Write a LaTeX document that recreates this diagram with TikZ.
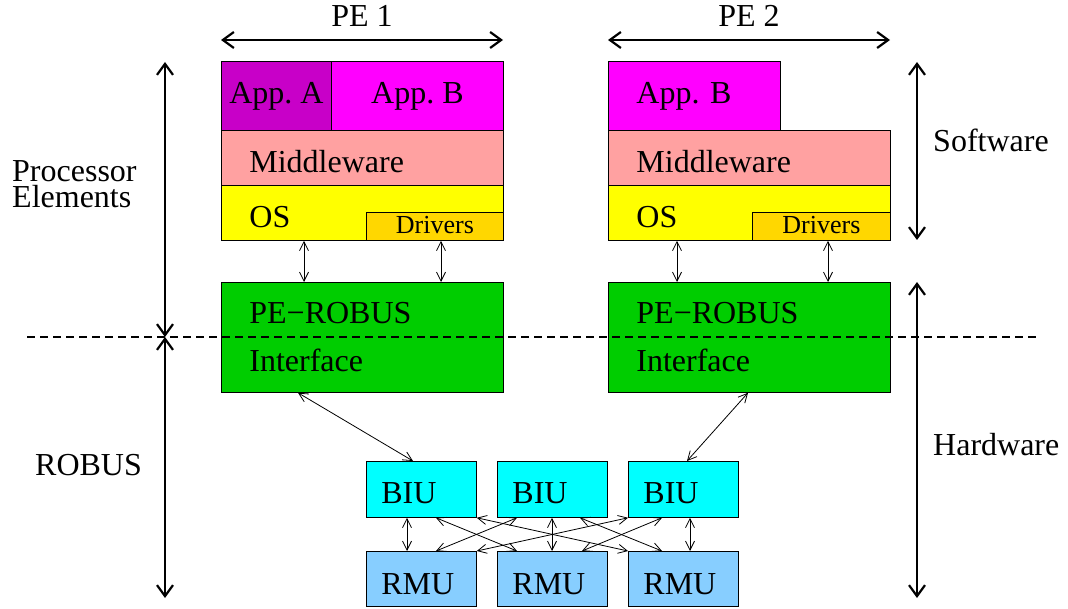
\documentclass[tikz,border=0pt]{standalone}
\usepackage{fontspec}
\setmainfont{Liberation Serif}
\usetikzlibrary{arrows.meta}
\frenchspacing
\begin{document}
\begin{tikzpicture}[x=1pt,y=-1pt,
  box/.style={draw=black, line width=0.8pt, anchor=north west, inner ysep=0pt,
    font=\fontsize{32}{36}\selectfont\frenchspacing},
  lbox/.style n args={4}{box, minimum width=#1, minimum height=#2, inner xsep=#3,
    text width=#4, align=left},
  cbox/.style 2 args={box, minimum width=#1, minimum height=#2, inner xsep=0pt, align=center},
  low/.style={text height=#1, text depth=0pt},
  lab/.style={font=\fontsize{32}{28}\selectfont, inner sep=0pt},
  axis/.style={line width=2.2pt, {Straight Barb[length=11pt,width=16pt]}-{Straight Barb[length=11pt,width=16pt]}},
  link/.style={line width=0.8pt, {Straight Barb[length=9pt,width=9pt]}-{Straight Barb[length=9pt,width=9pt]}},
  sep/.style={line width=2.2pt, dash pattern=on 8pt off 5pt}
]
\definecolor{appA}{HTML}{C800C8}
\definecolor{appB}{HTML}{FF00FF}
\definecolor{midw}{HTML}{FFA1A1}
\definecolor{osy}{HTML}{FFFF00}
\definecolor{drv}{HTML}{FFD700}
\definecolor{pegr}{HTML}{00CD00}
\definecolor{biuc}{HTML}{00FFFF}
\definecolor{rmuc}{HTML}{87CEFF}

\useasboundingbox (0,0) rectangle (1068,609);

% PE 1 stack
\node[cbox={110}{69}, fill=appA] (appA1) at (221,61) {App. A};
\node[cbox={172}{69}, fill=appB] (appB1) at (331,61) {App. B};
\node[lbox={282}{55}{28}{226}, fill=midw, low=29pt] (mw1) at (221,130) {Middleware};
\node[lbox={282}{55}{28}{226}, fill=osy, low=29pt] (os1) at (221,185) {OS};
\node[cbox={137}{28}, fill=drv, font=\fontsize{26}{28}\selectfont, text height=18pt, text depth=4pt] (drv1) at (366,212) {Drivers};
\node[lbox={282}{110}{28}{226}, fill=pegr, font=\fontsize{32}{48}\selectfont] (per1) at (221,282) {PE−ROBUS\\Interface};

% PE 2 stack
\node[lbox={172}{69}{28}{116}, fill=appB] (appB2) at (608,61) {App. B};
\node[lbox={282}{55}{28}{226}, fill=midw, low=29pt] (mw2) at (608,130) {Middleware};
\node[lbox={282}{55}{28}{226}, fill=osy, low=29pt] (os2) at (608,185) {OS};
\node[cbox={138}{28}, fill=drv, font=\fontsize{26}{28}\selectfont, text height=18pt, text depth=4pt] (drv2) at (752,212) {Drivers};
\node[lbox={282}{110}{28}{226}, fill=pegr, font=\fontsize{32}{48}\selectfont] (per2) at (608,282) {PE−ROBUS\\Interface};

% BIU / RMU
\node[lbox={110}{56}{15}{80}, fill=biuc, low=28pt] (biu1) at (366,461) {BIU};
\node[lbox={110}{56}{15}{80}, fill=biuc, low=28pt] (biu2) at (497,461) {BIU};
\node[lbox={110}{56}{15}{80}, fill=biuc, low=28pt] (biu3) at (628,461) {BIU};
\node[lbox={110}{55}{15}{80}, fill=rmuc, low=31pt] (rmu1) at (366,551) {RMU};
\node[lbox={110}{55}{15}{80}, fill=rmuc, low=31pt] (rmu2) at (497,551) {RMU};
\node[lbox={110}{55}{15}{80}, fill=rmuc, low=31pt] (rmu3) at (628,551) {RMU};

% OS <-> PE-ROBUS
\draw[link] ([xshift=83pt]os1.south west) -- ([xshift=83pt]per1.north west);
\draw[link] ([xshift=220pt]os1.south west) -- ([xshift=220pt]per1.north west);
\draw[link] ([xshift=69pt]os2.south west) -- ([xshift=69pt]per2.north west);
\draw[link] ([xshift=220pt]os2.south west) -- ([xshift=220pt]per2.north west);

% PE-ROBUS <-> BIU
\draw[link] ([xshift=77pt]per1.south west) -- ([xshift=47pt]biu1.north west);
\draw[link] ([xshift=140pt]per2.south west) -- ([xshift=59pt]biu3.north west);

% BIU <-> RMU
\draw[link] ([xshift=41pt]biu1.south west) -- ([xshift=41pt]rmu1.north west);
\draw[link] ([xshift=55pt]biu2.south west) -- ([xshift=55pt]rmu2.north west);
\draw[link] ([xshift=62pt]biu3.south west) -- ([xshift=62pt]rmu3.north west);
\draw[link] ([xshift=70pt]biu1.south west) -- ([xshift=20pt]rmu2.north west);
\draw[link] (biu1.south east) -- (rmu3.north west);
\draw[link] ([xshift=20pt]biu2.south west) -- ([xshift=70pt]rmu1.north west);
\draw[link] ([xshift=83pt]biu2.south west) -- ([xshift=34pt]rmu3.north west);
\draw[link] (biu3.south west) -- (rmu1.north east);
\draw[link] ([xshift=34pt]biu3.south west) -- ([xshift=85pt]rmu2.north west);

% axes
\coordinate (pe1L) at (221,40); \coordinate (pe1R) at (503,40);
\coordinate (pe2L) at (608,40); \coordinate (pe2R) at (890,40);
\coordinate (lt) at (165,62); \coordinate (lm) at (165,337); \coordinate (lb) at (165,598);
\coordinate (rt) at (917,62); \coordinate (rm1) at (917,240);
\coordinate (rm2) at (917,282); \coordinate (rb) at (917,598);
\coordinate (dl) at (27,337); \coordinate (dr) at (1040,337);

\draw[axis] (pe1L) -- (pe1R);
\draw[axis] (pe2L) -- (pe2R);
\draw[axis] (lt) -- (lm);
\draw[axis] (lm) -- (lb);
\draw[axis] (rt) -- (rm1);
\draw[axis] (rm2) -- (rb);
\draw[sep] (dl) -- (dr);

% labels
\node[lab] (lpe1) at (362,16) {PE 1};
\node[lab] (lpe2) at (749,16) {PE 2};
\node[lab, anchor=base west] (lproc1) at (12,182) {Processor};
\node[lab, anchor=base west] (lproc2) at (12,208) {Elements};
\node[lab, anchor=west] (lrob) at (35,465) {ROBUS};
\node[lab, anchor=west] (lsw) at (933,140) {Software};
\node[lab, anchor=west] (lhw) at (933,445) {Hardware};
\end{tikzpicture}
\end{document}
